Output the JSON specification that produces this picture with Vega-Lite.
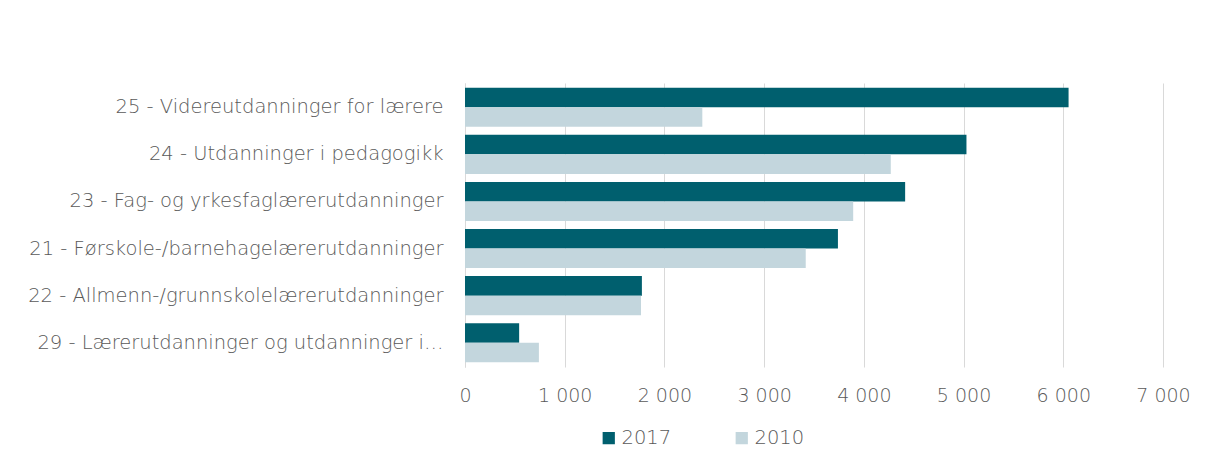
{
  "$schema": "https://vega.github.io/schema/vega-lite/v6.json",
  "autosize": {"type": "none"},
  "width": 698,
  "height": 284,
  "padding": {"left": 465, "top": 83, "right": 43, "bottom": 88},
  "background": "white",
  "config": {
    "font": "DejaVu Sans",
    "view": {"stroke": null}
  },
  "data": {
    "values": [
      {"kategori": "25 - Videreutdanninger for lærere", "år": "2017", "antall": 6053},
      {"kategori": "25 - Videreutdanninger for lærere", "år": "2010", "antall": 2380},
      {"kategori": "24 - Utdanninger i pedagogikk", "år": "2017", "antall": 5029},
      {"kategori": "24 - Utdanninger i pedagogikk", "år": "2010", "antall": 4270},
      {"kategori": "23 - Fag- og yrkesfaglærerutdanninger", "år": "2017", "antall": 4414},
      {"kategori": "23 - Fag- og yrkesfaglærerutdanninger", "år": "2010", "antall": 3893},
      {"kategori": "21 - Førskole-/barnehagelærerutdanninger", "år": "2017", "antall": 3740},
      {"kategori": "21 - Førskole-/barnehagelærerutdanninger", "år": "2010", "antall": 3417},
      {"kategori": "22 - Allmenn-/grunnskolelærerutdanninger", "år": "2017", "antall": 1774},
      {"kategori": "22 - Allmenn-/grunnskolelærerutdanninger", "år": "2010", "antall": 1765},
      {"kategori": "29 - Lærerutdanninger og utdanninger i…", "år": "2017", "antall": 543},
      {"kategori": "29 - Lærerutdanninger og utdanninger i…", "år": "2010", "antall": 741}
    ]
  },
  "mark": {"type": "bar"},
  "encoding": {
    "y": {
      "field": "kategori",
      "type": "nominal",
      "sort": null,
      "scale": {"paddingInner": 0.17, "paddingOuter": 0.1},
      "axis": {
        "title": null,
        "ticks": false,
        "domain": true,
        "domainColor": "#d9d9d9",
        "domainWidth": 1,
        "labelFontSize": 19.5,
        "labelColor": "#595959",
        "labelPadding": 22,
        "labelLimit": 460,
        "labelFontWeight": 200
      }
    },
    "yOffset": {
      "field": "år",
      "type": "nominal",
      "sort": ["2017", "2010"]
    },
    "x": {
      "field": "antall",
      "type": "quantitative",
      "scale": {"domain": [0, 7000], "nice": false},
      "axis": {
        "title": null,
        "values": [0, 1000, 2000, 3000, 4000, 5000, 6000, 7000],
        "labelExpr": "replace(format(datum.value, ',d'), ',', ' ')",
        "labelFlush": false,
        "domain": false,
        "ticks": false,
        "grid": true,
        "gridColor": "#d9d9d9",
        "gridWidth": 1,
        "labelFontSize": 19,
        "labelColor": "#595959",
        "labelFontWeight": 200,
        "labelPadding": 19
      }
    },
    "color": {
      "field": "år",
      "type": "nominal",
      "scale": {"domain": ["2017", "2010"], "range": ["#005f6e", "#c3d6dd"]},
      "legend": {
        "title": null,
        "orient": "none",
        "direction": "horizontal",
        "legendX": 134,
        "legendY": 345,
        "symbolType": "square",
        "symbolSize": 150,
        "symbolStrokeWidth": 0,
        "labelFontSize": 19.5,
        "labelColor": "#595959",
        "labelFontWeight": 200,
        "labelOffset": 3,
        "columnPadding": 60,
        "padding": 0
      }
    }
  }
}
